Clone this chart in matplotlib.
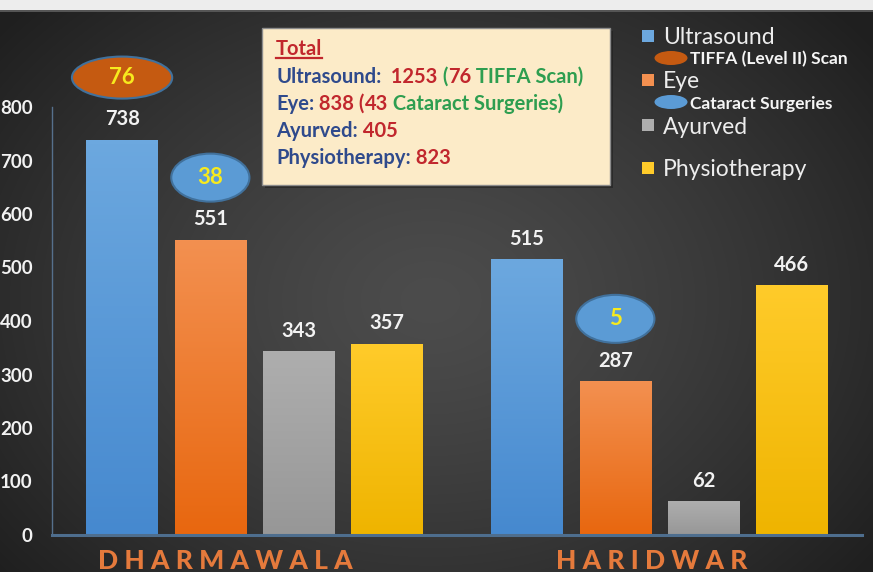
import numpy as np
import matplotlib
matplotlib.use('Agg')
import matplotlib.pyplot as plt
from matplotlib.patches import Ellipse, Rectangle
from matplotlib.colors import LinearSegmentedColormap

# ---------------- data ----------------
groups = ['DHARMAWALA', 'HARIDWAR']
series = ['Ultrasound', 'Eye', 'Ayurved', 'Physiotherapy']
ultrasound = [738, 515]
eye = [551, 287]
ayurved = [343, 62]
physiotherapy = [357, 466]
tiffa_scans = [76, None]        # shown in ellipse above Ultrasound bars
cataract_surgeries = [38, 5]    # shown in ellipse above Eye bars
yticks = [0, 100, 200, 300, 400, 500, 600, 700, 800]
legend_sub = ['TIFFA (Level II) Scan', 'Cataract Surgeries']
total_lines = [
    [('Ultrasound:', 'blue'), ('  1253', 'red'), (' (', 'green'), ('76', 'red'), (' TIFFA Scan)', 'green')],
    [('Eye:', 'blue'), (' 838', 'red'), (' (', 'red'), ('43', 'red'), (' Cataract Surgeries)', 'green')],
    [('Ayurved:', 'blue'), (' 405', 'red')],
    [('Physiotherapy:', 'blue'), (' 823', 'red')],
]

# ---------------- style ----------------
FONT = ['Lato', 'DejaVu Sans']
plt.rcParams['font.family'] = FONT
W, H = 873, 572
def fx(x): return x / W
def fy(y): return 1 - y / H

colors = {
    'Ultrasound': ('#6CA8DF', '#4689CF'),
    'Eye': ('#F39050', '#E8670F'),
    'Ayurved': ('#AEAEAE', '#979797'),
    'Physiotherapy': ('#FFCB2A', '#EFB400'),
}
txtc = {'blue': '#2F4A8C', 'red': '#C1272D', 'green': '#2E9E50'}

fig = plt.figure(figsize=(W / 100, H / 100), dpi=100)

# background radial gradient
bg = fig.add_axes([0, 0, 1, 1]); bg.axis('off')
yy, xx = np.mgrid[0:H, 0:W]
r = np.sqrt(((xx - 430) / 560.0) ** 2 + ((yy - 300) / 430.0) ** 2)
r = np.clip(r, 0, 1)
inner, outer = np.array([0x4c, 0x4c, 0x4c]) / 255, np.array([0x1f, 0x1f, 0x1f]) / 255
img = inner[None, None, :] * (1 - r[..., None] ** 1.3) + outer[None, None, :] * (r[..., None] ** 1.3)
bg.imshow(img, extent=[0, W, H, 0], aspect='auto')
bg.set_xlim(0, W); bg.set_ylim(H, 0)
# white strip on top
bg.add_patch(Rectangle((0, 0), W, 10, facecolor='#EDEDED', edgecolor='none'))
bg.add_patch(Rectangle((0, 10), W, 2, facecolor='#555555', edgecolor='none'))

# main axes
ax = fig.add_axes([fx(52), fy(535), 810 / W, 525 / H])
ax.set_facecolor('none')
x = np.arange(len(groups))
step, bw = 0.218, 0.176
values = [ultrasound, eye, ayurved, physiotherapy]
bars_by_series = []
for i, (name, vals) in enumerate(zip(series, values)):
    bars = ax.bar(x + (i - 1.5) * step, vals, bw, color=colors[name][0], zorder=2)
    bars_by_series.append(bars)
    cm = LinearSegmentedColormap.from_list(name, [colors[name][1], colors[name][0]])
    grad = np.linspace(0, 1, 100).reshape(-1, 1)
    for rect, v in zip(bars, vals):
        x0, w = rect.get_x(), rect.get_width()
        ax.imshow(grad, extent=[x0, x0 + w, 0, rect.get_height()], origin='lower',
                  aspect='auto', cmap=cm, zorder=2.1)
        ax.annotate(str(v), (x0 + w / 2, v), xytext=(0, 15), textcoords='offset points',
                    ha='center', va='center', color='#F2F2F2', fontsize=14.5, weight='bold', zorder=5)

ax.set_xlim(-0.5, 1.5)
ax.set_ylim(0, 525 / 0.535)
ax.set_yticks(yticks)
ax.set_yticklabels([str(t) for t in yticks], color='#F2F2F2', fontsize=13.5, weight='bold')
ax.tick_params(axis='y', length=0, pad=14)
ax.set_xticks([])
for s in ['top', 'right']:
    ax.spines[s].set_visible(False)
ax.spines['left'].set_bounds(0, 800)
ax.spines['left'].set_color('#56708C')
ax.spines['left'].set_linewidth(1)
ax.spines['bottom'].set_color('#4E6E8E')
ax.spines['bottom'].set_linewidth(2.2)

# ellipses with sub counts
ell_off = 117
for bars, vals, sub, fc, wpx, hpx in [
        (bars_by_series[0], ultrasound, tiffa_scans, '#C55A11', 100, 42),
        (bars_by_series[1], eye, cataract_surgeries, '#5B9BD5', 78, 48)]:
    for rect, v, s in zip(bars, vals, sub):
        if s is None:
            continue
        cx = rect.get_x() + rect.get_width() / 2
        ax.add_patch(Ellipse((cx, v + ell_off), wpx / 404.0, hpx / 0.535, facecolor=fc,
                             edgecolor='#41719C', lw=1.5, zorder=4, clip_on=False))
        ax.text(cx, v + ell_off, str(s), ha='center', va='center', color='#F7EA1E',
                fontsize=16, weight='bold', zorder=5)

# category labels
cat_px = [225, 652]
for g, cxp in zip(groups, cat_px):
    fig.text(fx(cxp), fy(549), ' '.join(g), ha='center', va='top', color='#E57A3C',
             fontsize=19, weight='black')

# totals box
bg.add_patch(Rectangle((265, 31), 348, 157, facecolor='#1a1a1a', alpha=0.5, edgecolor='none'))
bg.add_patch(Rectangle((262, 28), 348, 157, facecolor='#FCEBC8', edgecolor='#8C8C8C', lw=1))
FS = 14.5
t_total = fig.text(fx(276), fy(55), 'Total', color=txtc['red'], fontsize=FS, weight='bold', va='baseline')
baselines = [83, 110, 137, 164]
for parts, yb in zip(total_lines, baselines):
    t = fig.text(fx(276), fy(yb), parts[0][0], color=txtc[parts[0][1]], fontsize=FS,
                 weight='bold', va='baseline')
    for s, c in parts[1:]:
        t = bg.annotate(s, xycoords=t, xy=(1, 0), va='bottom', ha='left',
                        color=txtc[c], fontsize=FS, weight='bold')
fig.canvas.draw()
bb = t_total.get_window_extent()
bg.plot([bb.x0, bb.x1], [58, 58], color=txtc['red'], lw=1.6)

# legend
sq = 12
leg_items = [('Ultrasound', colors['Ultrasound'][0], 36, 'sq'),
             (legend_sub[0], '#C55A11', 58, 'ell'),
             ('Eye', colors['Eye'][0], 80, 'sq'),
             (legend_sub[1], '#5B9BD5', 102, 'ell'),
             ('Ayurved', colors['Ayurved'][0], 125, 'sq'),
             ('Physiotherapy', colors['Physiotherapy'][0], 168, 'sq')]
for label, col, yc, kind in leg_items:
    if kind == 'sq':
        bg.add_patch(Rectangle((642, yc - 6), sq, sq, facecolor=col, edgecolor='none'))
        fig.text(fx(663), fy(yc), label, color='#EDEDED', fontsize=16.5, va='center_baseline')
    else:
        bg.add_patch(Ellipse((671, yc), 33, 14, facecolor=col, edgecolor='none'))
        fig.text(fx(690), fy(yc), label, color='#F5F5F5', fontsize=12.5, weight='bold',
                 va='center_baseline')

fig.savefig('out.png', dpi=100)
